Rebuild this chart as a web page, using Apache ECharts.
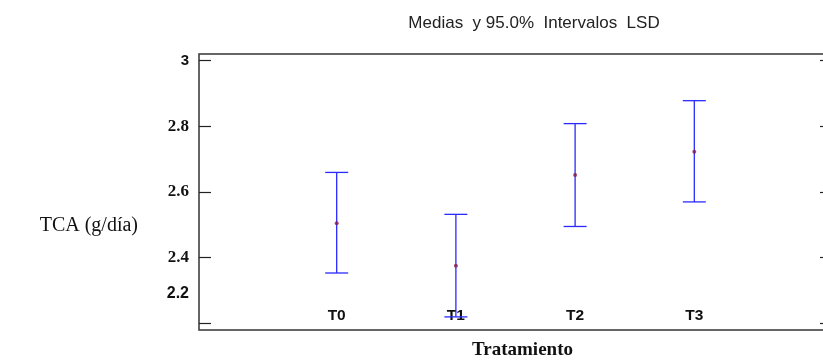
<!DOCTYPE html>
<html><head><meta charset="utf-8">
<script src="https://cdn.jsdelivr.net/npm/echarts@6/dist/echarts.min.js"></script>
<style>html,body{margin:0;padding:0;background:#fff}#c{width:823px;height:361px}</style>
</head><body><div id="c"></div>
<script>
var categories = ['T0', 'T1', 'T2', 'T3'];
var means = [2.504, 2.374, 2.651, 2.722];
var lower = [2.352, 2.218, 2.494, 2.569];
var upper = [2.659, 2.531, 2.808, 2.878];
var yTicks = [2.2, 2.4, 2.6, 2.8, 3.0];

var chart = echarts.init(document.getElementById('c'));
var barData = categories.map(function (c, i) { return [i, lower[i], upper[i]]; });
var meanData = categories.map(function (c, i) { return [i, means[i]]; });

chart.setOption({
  animation: false,
  title: {
    text: 'Medias  y 95.0%  Intervalos  LSD',
    left: 529, top: 10, textAlign: 'center',
    textStyle: { fontFamily: 'Liberation Sans, Arial', fontSize: 17, fontWeight: 'normal', color: '#222' }
  },
  grid: { left: 199, top: 54, right: -9, bottom: 31, outerBoundsMode: 'none', containLabel: false,
    show: true, borderColor: '#333', borderWidth: 1.5, backgroundColor: 'transparent' },
  xAxis: {
    type: 'value', min: -1.155, max: 4.155,
    name: 'Tratamiento', nameLocation: 'middle', nameGap: 11,
    nameTextStyle: { fontFamily: 'Liberation Serif, Times New Roman', fontSize: 19, fontWeight: 'bold', color: '#111', padding: [0, 0, 0, 14] },
    axisLine: { show: false, onZero: false }, axisTick: { show: false }, splitLine: { show: false },
    axisLabel: {
      customValues: [0, 1, 2, 3], inside: true, margin: 6,
      formatter: function (v) { return categories[Math.round(v)]; },
      fontFamily: 'Liberation Sans, Arial', fontSize: 15.5, fontWeight: 'bold', color: '#111'
    }
  },
  yAxis: [{
    type: 'value', min: 2.178, max: 3.0205, position: 'left',
    name: '{a|TCA (g/día)}', nameLocation: 'middle', nameRotate: 0, nameGap: 61,
    nameTextStyle: { rich: { a: { fontFamily: 'Liberation Serif, Times New Roman', fontSize: 20, color: '#111', padding: [68, 0, 0, 0] } } },
    axisLine: { show: false, onZero: false }, splitLine: { show: false },
    axisTick: { show: true, inside: true, length: 12, customValues: yTicks, lineStyle: { color: '#222', width: 1.2 } },
    axisLabel: {
      customValues: yTicks, margin: 10,
      formatter: function (v) {
        if (Math.abs(v - 3) < 1e-6) return '{s|3}';
        if (Math.abs(v - 2.2) < 1e-6) return '{u|2.2}';
        return '{n|' + v.toFixed(1) + '}';
      },
      rich: {
        s: { fontFamily: 'Liberation Sans, Arial', fontSize: 15, fontWeight: 'bold', color: '#111' },
        u: { fontFamily: 'Liberation Sans, Arial', fontSize: 16, fontWeight: 'bold', color: '#111', padding: [0, 0, 58, 0] },
        n: { fontFamily: 'Liberation Serif, Times New Roman', fontSize: 17, fontWeight: 'bold', color: '#111' }
      }
    }
  }, {
    type: 'value', min: 2.178, max: 3.0205, position: 'right',
    axisLine: { show: false, onZero: false }, splitLine: { show: false }, axisLabel: { show: false },
    axisTick: { show: true, inside: true, length: 12, customValues: yTicks, lineStyle: { color: '#222', width: 1.2 } }
  }],
  series: [{
    type: 'custom',
    data: barData,
    renderItem: function (params, api) {
      var x = api.value(0);
      var lo = api.coord([x, api.value(1)]);
      var hi = api.coord([x, api.value(2)]);
      var hw = 11.5;
      var st = { stroke: '#2a2aff', lineWidth: 1.3 };
      return { type: 'group', children: [
        { type: 'line', shape: { x1: lo[0], y1: lo[1], x2: hi[0], y2: hi[1] }, style: st },
        { type: 'line', shape: { x1: lo[0] - hw, y1: lo[1], x2: lo[0] + hw, y2: lo[1] }, style: st },
        { type: 'line', shape: { x1: hi[0] - hw, y1: hi[1], x2: hi[0] + hw, y2: hi[1] }, style: st }
      ] };
    },
    z: 2
  }, {
    type: 'scatter', data: meanData, symbolSize: 4,
    itemStyle: { color: '#8a1a4a' }, z: 3
  }]
});
</script></body></html>
